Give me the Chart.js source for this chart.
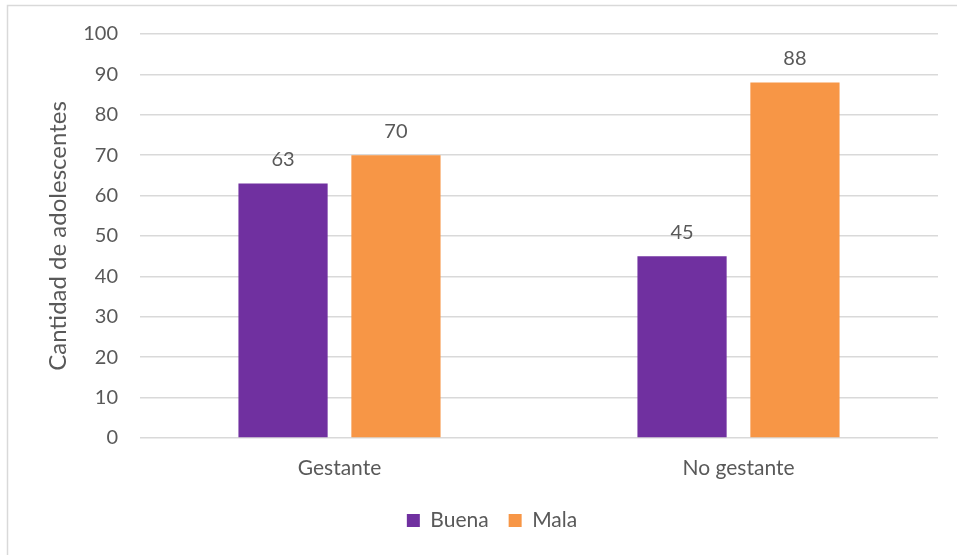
<!DOCTYPE html>
<html><head><meta charset="utf-8">
<script src="https://cdn.jsdelivr.net/npm/chart.js@4/dist/chart.umd.min.js"></script>
<style>html,body{margin:0;padding:0;background:#fff}#w{width:957px;height:555px;position:relative}</style>
</head><body><div id="w"><canvas id="c"></canvas></div>
<script>
const categories = ["Gestante", "No gestante"];
const buena = [63, 45];
const mala = [70, 88];
const seriesNames = ["Buena", "Mala"];
const yTitle = "Cantidad de adolescentes";
const FONT = "Lato, 'Open Sans', sans-serif";
const GRAY = "#595959";

const borderPlugin = {
  id: 'bd',
  afterLayout(chart) {
    if (chart.legend) { chart.legend.left += 23; chart.legend.right += 23; }
  },
  beforeDraw(chart) {
    const c = chart.ctx;
    c.save();
    c.fillStyle = '#fff';
    c.fillRect(0, 0, chart.width, chart.height);
    c.strokeStyle = '#d9d9d9';
    c.lineWidth = 1.5;
    c.strokeRect(7.5, 5.5, chart.width + 10, chart.height + 10);
    c.restore();
  }
};
const labelPlugin = {
  id: 'dl',
  afterDatasetsDraw(chart) {
    const c = chart.ctx;
    c.save();
    c.font = "20px " + FONT;
    c.fillStyle = GRAY;
    c.textAlign = 'center';
    c.textBaseline = 'middle';
    chart.data.datasets.forEach((ds, i) => {
      chart.getDatasetMeta(i).data.forEach((bar, j) => {
        c.fillText(String(ds.data[j]), bar.x, bar.y - 24);
      });
    });
    c.restore();
  }
};

new Chart(document.getElementById('c'), {
  type: 'bar',
  data: {
    labels: categories,
    datasets: [
      { label: seriesNames[0], data: buena, backgroundColor: '#7030A0' },
      { label: seriesNames[1], data: mala, backgroundColor: '#F79646' }
    ]
  },
  options: {
    responsive: true,
    maintainAspectRatio: false,
    animation: false,
    devicePixelRatio: 1,
    layout: { padding: { left: 0, right: 19, top: 26, bottom: 14 } },
    datasets: { bar: { categoryPercentage: 0.566, barPercentage: 0.79 } },
    plugins: {
      legend: {
        position: 'bottom',
        labels: { font: { family: FONT, size: 21 }, color: GRAY, boxWidth: 13, boxHeight: 13, padding: 20 }
      },
      tooltip: { enabled: false }
    },
    scales: {
      x: {
        grid: { display: false },
        border: { display: false },
        ticks: { font: { family: FONT, size: 21 }, color: GRAY, padding: 10 },
        afterFit(s) { s.height = 52; }
      },
      y: {
        min: 0, max: 100,
        ticks: { stepSize: 10, font: { family: FONT, size: 20 }, color: GRAY, padding: 22 },
        grid: { color: '#d9d9d9', lineWidth: 1.5, drawTicks: false },
        border: { display: false },
        title: { display: true, text: yTitle, font: { family: FONT, size: 24 }, color: GRAY, padding: { top: 44, bottom: 0 } },
        afterFit(s) { s.width = 140; }
      }
    }
  },
  plugins: [borderPlugin, labelPlugin]
});
</script></body></html>
